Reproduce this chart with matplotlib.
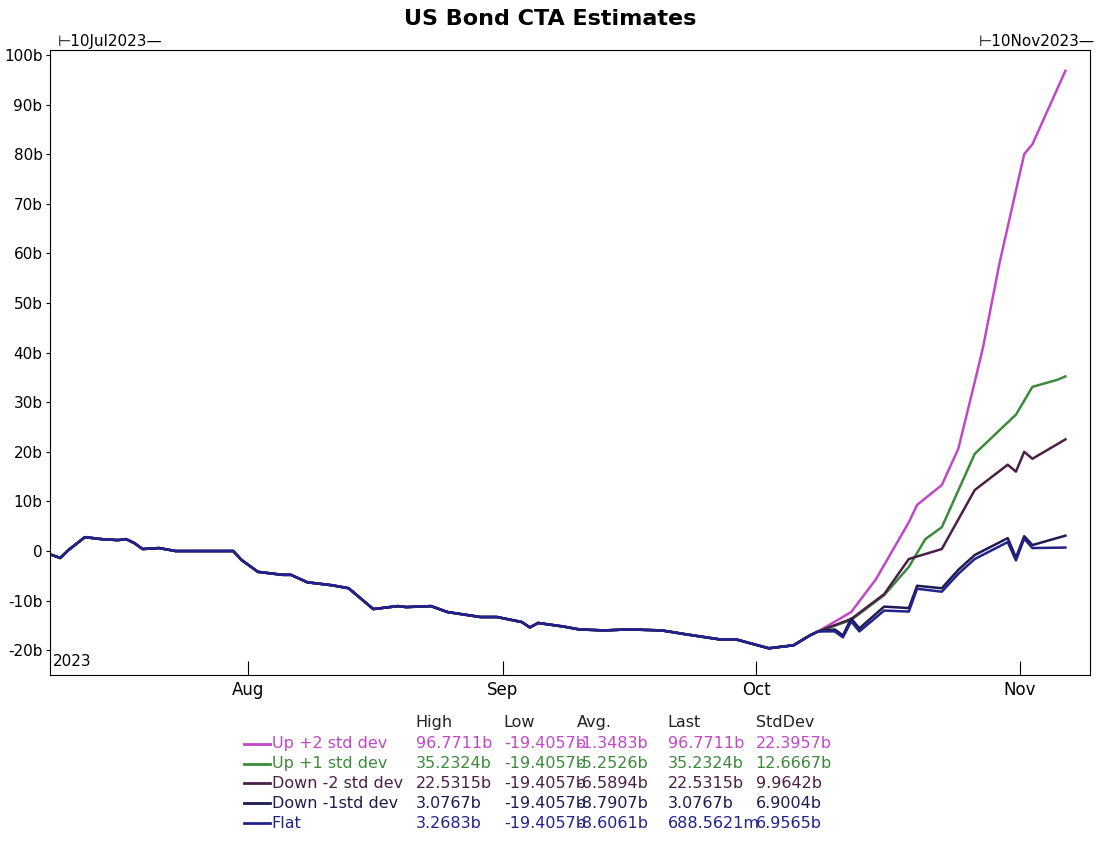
import matplotlib
matplotlib.use("Agg")
import matplotlib.pyplot as plt
import pandas as pd

start = pd.Timestamp("2023-07-10")

# common history (days since 10 Jul 2023, value in $bn)
base_days = [0, 1, 2, 4, 6, 8, 9, 10, 11, 13, 15, 17, 19, 22, 23, 25, 28, 29, 31, 34, 36, 39, 42, 43, 46,
             48, 52, 54, 57, 58, 59, 62, 64, 67, 70, 74, 77, 81, 83, 87, 90, 92, 93]
base_vals = [-0.8, -1.4, 0.2, 2.8, 2.4, 2.2, 2.4, 1.6, 0.4, 0.6, 0, 0, 0, 0, -1.8, -4.2, -4.8, -4.8, -6.3,
             -6.9, -7.5, -11.7, -11.1, -11.3, -11.1, -12.3, -13.3, -13.3, -14.3, -15.4, -14.5, -15.2, -15.8,
             -16, -15.8, -16, -16.8, -17.8, -17.8, -19.6, -19.0, -17.0, -16.2]

flat_days = [95, 96, 97, 98, 101, 104, 105, 108, 110, 112, 116, 117, 118, 119, 123]
flat_vals = [-16.2, -17.4, -14.2, -16.2, -12.0, -12.2, -7.6, -8.2, -4.6, -1.6, 1.8, -1.9, 2.5, 0.6, 0.7]
down1_vals = [-15.8, -17.0, -13.6, -15.6, -11.2, -11.5, -7.0, -7.5, -3.8, -0.8, 2.6, -1.3, 3.0, 1.2, 3.1]

down2_days = [97, 101, 104, 108, 112, 116, 117, 118, 119, 123]
down2_vals = [-13.7, -8.7, -1.6, 0.4, 12.3, 17.4, 16.0, 20.0, 18.6, 22.5]

up1_days = [97, 101, 104, 106, 108, 112, 117, 119, 122, 123]
up1_vals = [-13.9, -8.9, -3.2, 2.4, 4.8, 19.6, 27.5, 33.1, 34.5, 35.2]

up2_days = [97, 100, 104, 105, 108, 110, 112, 113, 115, 118, 119, 123]
up2_vals = [-12.3, -5.7, 5.8, 9.3, 13.3, 20.6, 34.1, 41, 58, 80, 82, 96.8]

# month label positions (days since start, as placed on the source chart)
month_days = [23.8, 54.7, 85.5, 117.5]
month_labels = ["Aug", "Sep", "Oct", "Nov"]

names = ["Up +2 std dev", "Up +1 std dev", "Down -2 std dev", "Down -1std dev", "Flat"]
colors = ["#c048c8", "#3c8a3c", "#4a2048", "#1c1c50", "#22228c"]
stats = [["96.7711b", "-19.4057b", "-1.3483b", "96.7711b", "22.3957b"],
         ["35.2324b", "-19.4057b", "-5.2526b", "35.2324b", "12.6667b"],
         ["22.5315b", "-19.4057b", "-6.5894b", "22.5315b", "9.9642b"],
         ["3.0767b", "-19.4057b", "-8.7907b", "3.0767b", "6.9004b"],
         ["3.2683b", "-19.4057b", "-8.6061b", "688.5621m", "6.9565b"]]
headers = ["High", "Low", "Avg.", "Last", "StdDev"]

NARROW = "Liberation Sans Narrow"


def dates(days):
    return [start + pd.Timedelta(days=d) for d in days]


fig = plt.figure(figsize=(11, 8.47), dpi=100)
ax = fig.add_axes([0.045, 0.203, 0.946, 0.738])

series = [(up2_days, up2_vals), (up1_days, up1_vals), (down2_days, down2_vals),
          (flat_days, down1_vals), (flat_days, flat_vals)]
for (d, v), c in zip(series, colors):
    ax.plot(dates(base_days + d), base_vals + v, color=c, lw=1.8)

ax.set_ylim(-25, 101)
ax.set_xlim(start - pd.Timedelta(days=0.3), start + pd.Timedelta(days=126))
yt = list(range(-20, 101, 10))
ax.set_yticks(yt)
ax.set_yticklabels([f"{t}b" if t != 0 else "0" for t in yt], fontsize=11, family=NARROW)
ax.set_xticks(dates(month_days))
ax.set_xticklabels(month_labels, fontsize=12, family=NARROW)
ax.tick_params(axis="x", length=10, direction="in", pad=4)
ax.tick_params(axis="y", length=3, pad=2)
ax.text(0.003, 0.01, "2023", transform=ax.transAxes, fontsize=11, va="bottom", family=NARROW)

fig.text(0.5, 0.977, "US Bond CTA Estimates", ha="center", va="center",
         fontsize=16, fontweight="bold", family=NARROW)
fig.text(0.052, 0.951, "\u22a210Jul2023\u2014", fontsize=11, va="center", family=NARROW)
fig.text(0.995, 0.951, "\u22a210Nov2023\u2014", fontsize=11, va="center", ha="right", family=NARROW)

# stats table under the chart
col_x = [0.378, 0.458, 0.524, 0.607, 0.687]
for cx, h in zip(col_x, headers):
    fig.text(cx, 0.147, h, fontsize=11.5, color="#222222", va="center", family=NARROW)
for i, (n, c, row) in enumerate(zip(names, colors, stats)):
    y = 0.122 - i * 0.0235
    fig.add_artist(plt.Line2D([0.222, 0.245], [y, y], color=c, lw=2))
    fig.text(0.247, y, n, fontsize=11.5, color=c, va="center", family=NARROW)
    for cx, s in zip(col_x, row):
        fig.text(cx, y, s, fontsize=11.5, color=c, va="center", family=NARROW)

fig.savefig("out.png", dpi=100)
